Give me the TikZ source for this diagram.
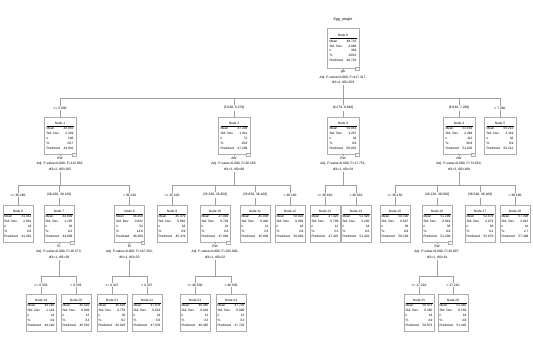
\documentclass[tikz,border=0pt]{standalone}
\usepackage{fontspec}
\setmainfont{Liberation Sans}
\usetikzlibrary{calc}
\newcommand\tfont{\fontsize{3.2}{4.9}\selectfont}
\newcommand\sfont{\fontsize{3.3}{5.4}\selectfont}
\tikzset{
 conn/.style={draw=gray!75, line width=0.45pt},
 tbox/.style={draw=gray!65, line width=0.6pt, fill=white, anchor=north, inner sep=1.2pt, minimum width=30pt, minimum height=37pt, font=\tfont},
 wide/.style={minimum width=32pt},
 stat/.style={anchor=north, align=center, inner sep=0.8pt, font=\sfont},
 split/.style={inner sep=0.8pt, font=\sfont},
 ctl/.style={draw=gray!65, line width=0.35pt, fill=white, minimum size=3.6pt, inner sep=0pt, anchor=center, font=\tfont}
}
\newcommand\tnode[9][]{\node[tbox,#1] (#2) at (#3) {\begin{tabular*}{27pt}{@{}l@{\extracolsep{\fill}}r@{}}\multicolumn{2}{c}{Node #4}\\\hline Mean&#5\\Std. Dev.&#6\\n&#7\\\%&#8\\Predicted&#9\end{tabular*}};}
\newcommand\branch[3]{\draw[conn] (#1.north |- #2) -- (#3.north) (#3.south) -- (#1.north);}
\newcommand\ctlbox[2]{\node[ctl] (#1) at ($(#2.south east)+(-2.2,0)$) {-};}
\begin{document}
\begin{tikzpicture}[x=1pt,y=-1pt]
\fill[white] (0,0) rectangle (533,353);
\useasboundingbox (0,0) rectangle (533,353);
% ---------- root ----------
\node[font=\fontsize{3.6}{4}\selectfont] (title) at (343,20) {Egg\_weight};
\tnode[wide,minimum height=40pt]{n0}{343,28}{0}{49.723}{4.886}{364}{100.0}{49.723}
\node[stat] (s0) at ($(n0.south)+(0,1.5)$) {gw\\Adj. P-value=0.000, F=417.317,\\df1=4, df2=359};
\ctlbox{m0}{n0}
\coordinate (j0) at (343,98);
\coordinate (bl0) at (60,98);
\coordinate (br0) at (500,98);
% ---------- level 1 ----------
\node[split] (l1) at (60,108) {<= 5.830};
\node[split] (l2) at (234,108) {(5.830, 6.279]};
\node[split] (l3) at (343,108) {(6.279, 6.640]};
\node[split] (l4) at (459,108) {(6.640, 7.260]};
\node[split] (l5) at (500,108) {> 7.260};
\tnode[wide]{n1}{60,117}{1}{44.932}{2.329}{108}{29.7}{44.932}
\tnode[wide]{n2}{234,117}{2}{47.208}{1.911}{72}{19.8}{47.208}
\tnode[wide]{n3}{343,117}{3}{50.053}{3.267}{36}{9.9}{50.053}
\tnode[wide]{n4}{459,117}{4}{51.633}{2.464}{112}{30.8}{51.633}
\tnode[wide]{n5}{500,117}{5}{63.212}{3.119}{36}{9.9}{63.212}
\node[stat] (s1) at ($(n1.south)+(0,1.5)$) {EW\\Adj. P-value=0.000, F=112.836,\\df1=2, df2=105};
\node[stat] (s2) at ($(n2.south)+(0,1.5)$) {AW\\Adj. P-value=0.000, F=26.185,\\df1=3, df2=68};
\node[stat] (s3) at ($(n3.south)+(0,1.5)$) {EW\\Adj. P-value=0.000, F=17.751,\\df1=1, df2=34};
\node[stat] (s4) at ($(n4.south)+(0,1.5)$) {AW\\Adj. P-value=0.000, F=74.654,\\df1=3, df2=108};
\ctlbox{m1}{n1}\ctlbox{m2}{n2}\ctlbox{m3}{n3}\ctlbox{m4}{n4}
\coordinate (j1) at (60,185);  \coordinate (bl1) at (18,185);  \coordinate (br1) at (129.5,185);
\coordinate (j2) at (234,185); \coordinate (bl2) at (172,185); \coordinate (br2) at (290,185);
\coordinate (j3) at (343,185); \coordinate (bl3) at (325,185); \coordinate (br3) at (356,185);
\coordinate (j4) at (459,185); \coordinate (bl4) at (395,185); \coordinate (br4) at (515,185);
% ---------- level 2 ----------
\node[split] (l6) at (18,195) {<= 36.260};
\node[split] (l7) at (59,195) {(36.260, 39.130]};
\node[split] (l8) at (129.5,195) {> 39.130};
\node[split] (l9) at (172,195) {<= 35.320};
\node[split] (l10) at (215,195) {(35.320, 35.650]};
\node[split] (l11) at (255,195) {(35.650, 36.160]};
\node[split] (l12) at (290,195) {> 36.160};
\node[split] (l13) at (325,195) {<= 36.910};
\node[split] (l14) at (356,195) {> 36.910};
\node[split] (l15) at (395,195) {<= 36.150};
\node[split] (l16) at (437,195) {(36.150, 36.590]};
\node[split] (l17) at (480,195) {(36.590, 38.160]};
\node[split] (l18) at (515,195) {> 38.160};
\tnode{n6}{18,205}{6}{41.452}{2.061}{24}{6.6}{41.452}
\tnode{n7}{59,205}{7}{44.699}{1.195}{30}{8.2}{44.699}
\tnode{n8}{129.5,205}{8}{46.269}{0.822}{54}{14.8}{46.269}
\tnode{n9}{172,205}{9}{45.479}{0.862}{18}{4.9}{45.479}
\tnode{n10}{215,205}{10}{47.092}{0.728}{24}{6.6}{47.092}
\tnode{n11}{255,205}{11}{45.838}{0.940}{12}{3.3}{45.838}
\tnode{n12}{290,205}{12}{50.828}{0.993}{18}{4.9}{50.828}
\tnode{n13}{325,205}{13}{47.425}{0.799}{12}{3.3}{47.425}
\tnode{n14}{356,205}{14}{51.426}{3.230}{24}{6.6}{51.426}
\tnode{n15}{395,205}{15}{50.100}{0.647}{36}{9.9}{50.100}
\tnode{n16}{437,205}{16}{51.209}{0.919}{36}{9.9}{51.209}
\tnode{n17}{480,205}{17}{52.679}{2.673}{30}{8.2}{52.679}
\tnode{n18}{515,205}{18}{57.408}{2.912}{10}{2.7}{57.408}
\node[stat] (s7) at ($(n7.south)+(0,1.5)$) {EI\\Adj. P-value=0.000, F=26.573,\\df1=1, df2=28};
\node[stat] (s8) at ($(n8.south)+(0,1.5)$) {EI\\Adj. P-value=0.000, F=167.352,\\df1=1, df2=52};
\node[stat] (s10) at ($(n10.south)+(0,1.5)$) {EW\\Adj. P-value=0.000, F=105.000,\\df1=1, df2=22};
\node[stat] (s16) at ($(n16.south)+(0,1.5)$) {SW\\Adj. P-value=0.000, F=45.097,\\df1=1, df2=34};
\ctlbox{m7}{n7}\ctlbox{m8}{n8}\ctlbox{m10}{n10}\ctlbox{m16}{n16}
\coordinate (j7) at (59,276);    \coordinate (bl7) at (41,276);   \coordinate (br7) at (76,276);
\coordinate (j8) at (129.5,276); \coordinate (bl8) at (112,276);  \coordinate (br8) at (147,276);
\coordinate (j10) at (215,276);  \coordinate (bl10) at (195,276); \coordinate (br10) at (231,276);
\coordinate (j16) at (437,276);  \coordinate (bl16) at (419,276); \coordinate (br16) at (453,276);
% ---------- level 3 ----------
\node[split] (l19) at (41,285) {<= 0.333};
\node[split] (l20) at (76,285) {> 0.333};
\node[split] (l21) at (112,285) {<= 0.347};
\node[split] (l22) at (147,285) {> 0.347};
\node[split] (l23) at (195,285) {<= 46.500};
\node[split] (l24) at (231,285) {> 46.500};
\node[split] (l25) at (419,285) {<= 17.210};
\node[split] (l26) at (453,285) {> 17.210};
\tnode{n19}{41,294}{19}{44.160}{1.144}{18}{4.9}{44.160}
\tnode{n20}{76,294}{20}{45.510}{0.809}{12}{3.3}{45.510}
\tnode{n21}{112,294}{21}{45.626}{0.753}{30}{8.2}{45.626}
\tnode{n22}{147,294}{22}{47.078}{0.519}{24}{6.6}{47.078}
\tnode{n23}{195,294}{23}{46.465}{0.444}{12}{3.3}{46.465}
\tnode{n24}{231,294}{24}{47.720}{0.000}{12}{3.3}{47.720}
\tnode{n25}{419,294}{25}{50.973}{0.260}{18}{4.9}{50.973}
\tnode{n26}{453,294}{26}{51.445}{0.159}{18}{4.9}{51.445}
% ---------- connectors ----------
\draw[conn] (n0.south) -- (s0.north);
\draw[conn] (s0.south) -- (j0);
\draw[conn] (bl0) -- (br0);
\branch{n1}{bl0}{l1}\branch{n2}{bl0}{l2}\branch{n3}{bl0}{l3}\branch{n4}{bl0}{l4}\branch{n5}{bl0}{l5}
\foreach \p in {1,2,3,4}{
  \draw[conn] (n\p.south) -- (s\p.north);
  \draw[conn] (s\p.south) -- (j\p);
  \draw[conn] (bl\p) -- (br\p);
}
\branch{n6}{bl1}{l6}\branch{n7}{bl1}{l7}\branch{n8}{bl1}{l8}
\branch{n9}{bl2}{l9}\branch{n10}{bl2}{l10}\branch{n11}{bl2}{l11}\branch{n12}{bl2}{l12}
\branch{n13}{bl3}{l13}\branch{n14}{bl3}{l14}
\branch{n15}{bl4}{l15}\branch{n16}{bl4}{l16}\branch{n17}{bl4}{l17}\branch{n18}{bl4}{l18}
\foreach \p in {7,8,10,16}{
  \draw[conn] (n\p.south) -- (s\p.north);
  \draw[conn] (s\p.south) -- (j\p);
  \draw[conn] (bl\p) -- (br\p);
}
\branch{n19}{bl7}{l19}\branch{n20}{bl7}{l20}
\branch{n21}{bl8}{l21}\branch{n22}{bl8}{l22}
\branch{n23}{bl10}{l23}\branch{n24}{bl10}{l24}
\branch{n25}{bl16}{l25}\branch{n26}{bl16}{l26}
\end{tikzpicture}
\end{document}
